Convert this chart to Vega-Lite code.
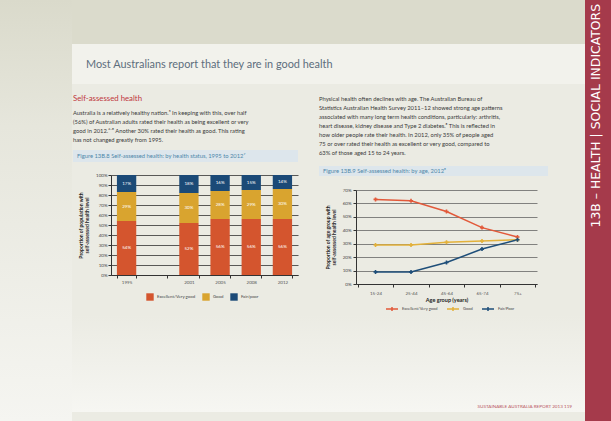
{
  "$schema": "https://vega.github.io/schema/vega-lite/v6.json",
  "background": "#ebebe3",
  "padding": 0,
  "spacing": 0,
  "resolve": {"scale": {"color": "independent"}, "legend": {"color": "independent"}},
  "config": {
    "view": {"stroke": null},
    "concat": {"spacing": 0},
    "font": "Lato",
    "axis": {"labelFont": "Lato", "titleFont": "Lato"},
    "legend": {"labelFont": "Lato"}
  },
  "hconcat": [
    {"data": {"values": []}, "mark": "rect", "width": 72, "height": 421,
     "view": {"fill": {"gradient": "linear", "x1": 0, "y1": 0, "x2": 0, "y2": 1, "stops": [{"offset": 0, "color": "#dadacb"}, {"offset": 0.3, "color": "#e6e6dc"}, {"offset": 1, "color": "#f5f5f1"}]}}},
    {
      "spacing": 0,
      "resolve": {"scale": {"color": "independent"}, "legend": {"color": "independent"}},
      "vconcat": [
        {"data": {"values": []}, "mark": "rect", "width": 513, "height": 44, "view": {"fill": "#dbdbcc"}},
        {
          "data": {"values": []}, "mark": "rect", "width": 513, "height": 40,
          "view": {"fill": "#f2f2ec"},
          "title": {"text": "Most Australians report that they are in good health", "orient": "bottom", "anchor": "start", "frame": "group", "offset": -25.5, "dx": 14, "fontSize": 10.9, "font": "Lato", "fontWeight": "normal", "color": "#5d6e7d"}
        },
        {
          "spacing": 0,
          "resolve": {"scale": {"color": "independent"}, "legend": {"color": "independent"}},
          "hconcat": [
            {"data": {"values": []}, "mark": "rect", "width": 1, "height": 1},
            {
              "spacing": 0,
              "resolve": {"scale": {"color": "independent"}, "legend": {"color": "independent"}},
              "vconcat": [
                {
                  "data": {"values": []}, "mark": "rect", "width": 225, "height": 66,
                  "title": {
                    "text": "Self-assessed health", "orient": "bottom", "anchor": "start", "frame": "group", "offset": -55,
                    "fontSize": 7.8, "font": "Lato", "fontWeight": "normal", "color": "#c0363c",
                    "subtitle": [
                      "Australia is a relatively healthy nation.⁵ In keeping with this, over half",
                      "(56%) of Australian adults rated their health as being excellent or very",
                      "good in 2012.⁶⁻⁸ Another 30% rated their health as good. This rating",
                      "has not changed greatly from 1995."
                    ],
                    "subtitleFont": "Lato", "subtitleFontSize": 5.8, "subtitleColor": "#3a3a3a", "subtitleLineHeight": 9, "subtitlePadding": 7
                  }
                },
                {
                  "data": {"values": []}, "mark": "rect", "width": 225, "height": 12,
                  "view": {"fill": "#dde6ec"},
                  "title": {"text": "Figure 13B.8 Self-assessed health: by health status, 1995 to 2012⁷", "orient": "bottom", "anchor": "start", "frame": "group", "offset": -9, "dx": 4, "fontSize": 5.8, "font": "Lato", "fontWeight": "normal", "color": "#4d87aa"}
                },
                {"data": {"values": []}, "mark": "rect", "width": 225, "height": 10},
                {
                  "spacing": 0,
                  "resolve": {"scale": {"color": "independent"}, "legend": {"color": "independent"}},
                  "hconcat": [
                    {"data": {"values": []}, "mark": "rect", "width": 5, "height": 1},
                    {
                      "width": 187,
                      "height": 100,
                      "data": {"values": [
                        {"year": "1995", "status": "Excellent/Very good", "value": 0.54},
                        {"year": "1995", "status": "Good", "value": 0.29},
                        {"year": "1995", "status": "Fair/poor", "value": 0.17},
                        {"year": "2001", "status": "Excellent/Very good", "value": 0.52},
                        {"year": "2001", "status": "Good", "value": 0.30},
                        {"year": "2001", "status": "Fair/poor", "value": 0.18},
                        {"year": "2005", "status": "Excellent/Very good", "value": 0.56},
                        {"year": "2005", "status": "Good", "value": 0.28},
                        {"year": "2005", "status": "Fair/poor", "value": 0.16},
                        {"year": "2008", "status": "Excellent/Very good", "value": 0.56},
                        {"year": "2008", "status": "Good", "value": 0.29},
                        {"year": "2008", "status": "Fair/poor", "value": 0.15},
                        {"year": "2012", "status": "Excellent/Very good", "value": 0.56},
                        {"year": "2012", "status": "Good", "value": 0.30},
                        {"year": "2012", "status": "Fair/poor", "value": 0.14}
                      ]},
                      "transform": [
                        {"stack": "value", "groupby": ["year"], "sort": [{"field": "value", "order": "descending"}], "as": ["v0", "v1"]},
                        {"calculate": "(datum.v0 + datum.v1) / 2", "as": "mid"}
                      ],
                      "encoding": {
                        "x": {
                          "field": "year", "type": "nominal",
                          "scale": {"domain": ["1995", "gap", "2001", "2005", "2008", "2012"], "paddingInner": 0.38, "paddingOuter": 0.19},
                          "axis": {"title": null, "labelExpr": "datum.value == 'gap' ? '' : datum.value", "labelFontSize": 4.5, "labelColor": "#555", "labelAngle": 0, "tickBand": "extent", "tickSize": 3, "tickColor": "#333", "domainColor": "#333", "labelPadding": 1, "grid": false}
                        }
                      },
                      "layer": [
                        {
                          "mark": {"type": "bar"},
                          "encoding": {
                            "y": {
                              "field": "v0", "type": "quantitative",
                              "scale": {"domain": [0, 1]},
                              "axis": {"title": ["Proportion of population with", "self-assessed health level"], "format": ".0%", "values": [0, 0.1, 0.2, 0.3, 0.4, 0.5, 0.6, 0.7, 0.8, 0.9, 1], "labelOverlap": false, "labelFontSize": 4.5, "labelColor": "#444", "titleFontSize": 5, "titleFontWeight": "bold", "titleColor": "#222", "titleLineHeight": 6, "titlePadding": 6, "grid": true, "gridColor": "#333", "gridWidth": 0.8, "domainColor": "#333", "tickColor": "#333", "tickSize": 3, "labelPadding": 1}
                            },
                            "y2": {"field": "v1"},
                            "color": {
                              "field": "status", "type": "nominal",
                              "scale": {"domain": ["Excellent/Very good", "Good", "Fair/poor"], "range": ["#d4552e", "#d9a42f", "#1b4a77"]},
                              "legend": {"orient": "none", "legendX": 35, "legendY": 118, "direction": "horizontal", "title": null, "symbolType": "square", "symbolSize": 55, "symbolStrokeWidth": 0, "labelFontSize": 4.3, "labelColor": "#444", "columnPadding": 6, "labelOffset": 3, "gridAlign": "none"}
                            }
                          }
                        },
                        {
                          "mark": {"type": "text", "color": "white", "fontSize": 4.5},
                          "encoding": {
                            "y": {
                              "field": "mid", "type": "quantitative",
                              "scale": {"domain": [0, 1]},
                              "axis": {"title": ["Proportion of population with", "self-assessed health level"], "format": ".0%", "values": [0, 0.1, 0.2, 0.3, 0.4, 0.5, 0.6, 0.7, 0.8, 0.9, 1], "labelOverlap": false, "labelFontSize": 4.5, "labelColor": "#444", "titleFontSize": 5, "titleFontWeight": "bold", "titleColor": "#222", "titleLineHeight": 6, "titlePadding": 6, "grid": true, "gridColor": "#333", "gridWidth": 0.8, "domainColor": "#333", "tickColor": "#333", "tickSize": 3, "labelPadding": 1}
                            },
                            "text": {"field": "value", "type": "quantitative", "format": ".0%"}
                          }
                        }
                      ]
                    }
                  ]
                }
              ]
            },
            {"data": {"values": []}, "mark": "rect", "width": 21, "height": 1},
            {
              "spacing": 0,
              "resolve": {"scale": {"color": "independent"}, "legend": {"color": "independent"}},
              "vconcat": [
                {
                  "data": {"values": []}, "mark": "rect", "width": 229, "height": 82,
                  "title": {
                    "text": [
                      "Physical health often declines with age. The Australian Bureau of",
                      "Statistics Australian Health Survey 2011–12 showed strong age patterns",
                      "associated with many long term health conditions, particularly: arthritis,",
                      "heart disease, kidney disease and Type 2 diabetes.⁸ This is reflected in",
                      "how older people rate their health. In 2012, only 35% of people aged",
                      "75 or over rated their health as excellent or very good, compared to",
                      "63% of those aged 15 to 24 years."
                    ],
                    "orient": "bottom", "anchor": "start", "frame": "group", "offset": -70,
                    "fontSize": 5.8, "font": "Lato", "fontWeight": "normal", "color": "#3a3a3a", "lineHeight": 9
                  }
                },
                {
                  "data": {"values": []}, "mark": "rect", "width": 229, "height": 10,
                  "view": {"fill": "#dde6ec"},
                  "title": {"text": "Figure 13B.9 Self-assessed health: by age, 2012⁸", "orient": "bottom", "anchor": "start", "frame": "group", "offset": -8, "dx": 4, "fontSize": 5.8, "font": "Lato", "fontWeight": "normal", "color": "#4d87aa"}
                },
                {"data": {"values": []}, "mark": "rect", "width": 229, "height": 11},
                {
                  "spacing": 0,
                  "resolve": {"scale": {"color": "independent"}, "legend": {"color": "independent"}},
                  "hconcat": [
                    {"data": {"values": []}, "mark": "rect", "width": 6, "height": 1},
                    {
                      "width": 181,
                      "height": 94,
                      "data": {"values": [
                        {"age": "15-24", "status": "Excellent/Very good", "value": 0.63},
                        {"age": "25-44", "status": "Excellent/Very good", "value": 0.62},
                        {"age": "45-64", "status": "Excellent/Very good", "value": 0.54},
                        {"age": "65-74", "status": "Excellent/Very good", "value": 0.42},
                        {"age": "75+", "status": "Excellent/Very good", "value": 0.35},
                        {"age": "15-24", "status": "Good", "value": 0.29},
                        {"age": "25-44", "status": "Good", "value": 0.29},
                        {"age": "45-64", "status": "Good", "value": 0.31},
                        {"age": "65-74", "status": "Good", "value": 0.32},
                        {"age": "75+", "status": "Good", "value": 0.33},
                        {"age": "15-24", "status": "Fair/Poor", "value": 0.09},
                        {"age": "25-44", "status": "Fair/Poor", "value": 0.09},
                        {"age": "45-64", "status": "Fair/Poor", "value": 0.16},
                        {"age": "65-74", "status": "Fair/Poor", "value": 0.26},
                        {"age": "75+", "status": "Fair/Poor", "value": 0.33}
                      ]},
                      "mark": {"type": "line", "strokeWidth": 1.5, "point": {"shape": "cross", "size": 16, "filled": true}},
                      "encoding": {
                        "x": {
                          "field": "age", "type": "nominal",
                          "sort": ["15-24", "25-44", "45-64", "65-74", "75+"],
                          "scale": {"type": "band", "paddingInner": 0, "paddingOuter": 0.05},
                          "axis": {"title": "Age group (years)", "titleFontSize": 5.5, "titleFontWeight": "bold", "titleColor": "#222", "titlePadding": 3, "labelFontSize": 4.5, "labelColor": "#555", "labelAngle": 0, "labelPadding": 3, "tickBand": "extent", "tickSize": 3, "tickColor": "#333", "domainColor": "#333", "grid": false}
                        },
                        "y": {
                          "field": "value", "type": "quantitative",
                          "scale": {"domain": [0, 0.7]},
                          "axis": {"title": ["Proportion of age group with", "self-assessed health level"], "format": ".0%", "values": [0, 0.1, 0.2, 0.3, 0.4, 0.5, 0.6, 0.7], "labelOverlap": false, "labelFontSize": 4.5, "labelColor": "#444", "titleFontSize": 5, "titleFontWeight": "bold", "titleColor": "#222", "titleLineHeight": 6, "titlePadding": 6, "grid": true, "gridColor": "#666", "gridWidth": 0.8, "domainColor": "#333", "tickColor": "#333", "tickSize": 3, "labelPadding": 2}
                        },
                        "color": {
                          "field": "status", "type": "nominal",
                          "scale": {"domain": ["Excellent/Very good", "Good", "Fair/Poor"], "range": ["#e2593a", "#e3b13a", "#1e4e79"]},
                          "legend": {"orient": "none", "legendX": 29, "legendY": 112, "direction": "horizontal", "title": null, "symbolType": "M-1,0H1M0,-0.35V0.35", "symbolSize": 144, "symbolStrokeWidth": 1.5, "labelFontSize": 4, "labelColor": "#444", "columnPadding": 6, "labelOffset": 3, "gridAlign": "none"}
                        }
                      }
                    }
                  ]
                }
              ]
            }
          ]
        },
        {
          "data": {"values": []}, "mark": "rect", "width": 513, "height": 97,
          "view": {"fill": {"gradient": "linear", "x1": 0, "y1": 0, "x2": 0, "y2": 1, "stops": [{"offset": 0, "color": "#ebebe3"}, {"offset": 1, "color": "#f6f6f2"}]}},
          "title": {"text": "SUSTAINABLE AUSTRALIA REPORT 2013                    119", "orient": "bottom", "anchor": "end", "frame": "group", "offset": -8, "dx": -13, "fontSize": 4.6, "font": "Lato", "fontWeight": "normal", "color": "#b8555f"}
        }
      ]
    },
    {
      "data": {"values": []}, "mark": "rect", "width": 26, "height": 421,
      "view": {"fill": "#a53a4b"},
      "title": {"text": "13B – HEALTH | SOCIAL INDICATORS", "orient": "left", "anchor": "end", "frame": "group", "offset": -23, "baseline": "middle", "dx": -4, "fontSize": 12.4, "font": "DejaVu Sans", "fontWeight": "normal", "color": "white"}
    }
  ]
}
